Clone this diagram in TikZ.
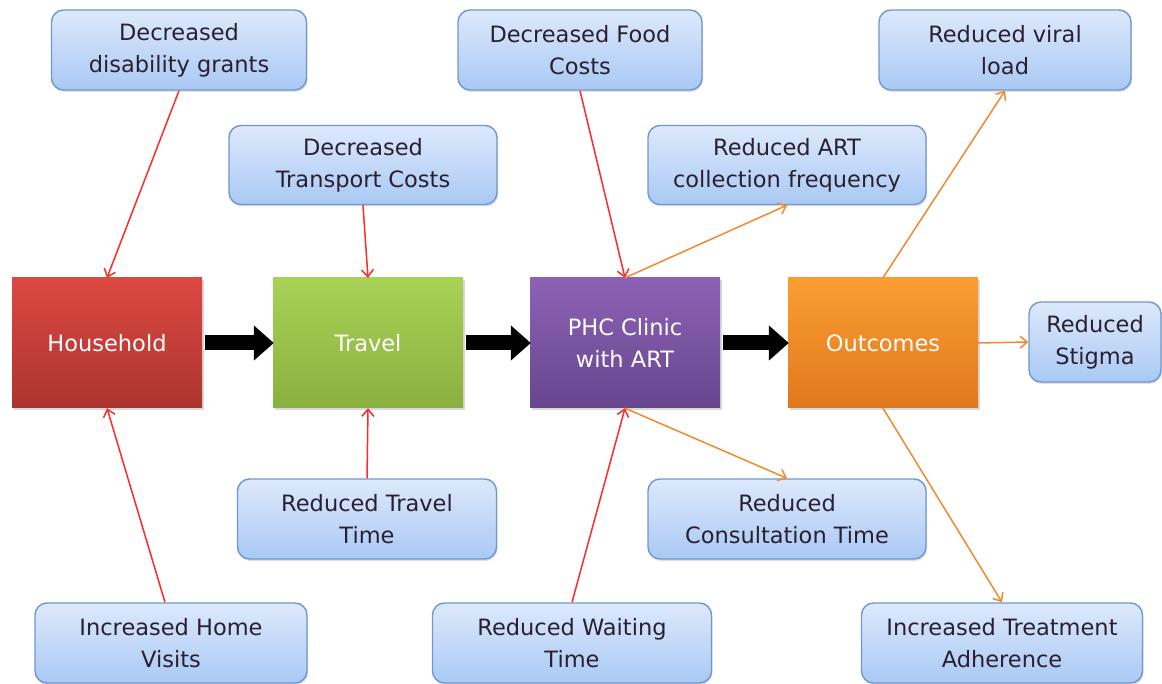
\documentclass[tikz,border=0pt]{standalone}
\usepackage{fontspec}
\setmainfont{DejaVu Sans}
\usetikzlibrary{arrows.meta,shadows}
\definecolor{redln}{HTML}{FF2A2A}
\definecolor{orln}{HTML}{F08A30}
\definecolor{bluebd}{HTML}{6F98CF}
\definecolor{bluetop}{HTML}{DDE9FC}
\definecolor{bluebot}{HTML}{A9C9F4}
\definecolor{txt}{HTML}{2A2030}
\tikzset{
  infobox/.style={draw=bluebd, line width=1.4pt, rounded corners=12pt, top color=bluetop, bottom color=bluebot,
    align=center, font=\fontsize{22.5}{32}\selectfont, text=txt, inner sep=0pt,
    drop shadow={shadow xshift=1pt, shadow yshift=-2pt, opacity=0.25}},
  mainbox/.style={minimum width=190pt, minimum height=130pt, inner sep=0pt, align=center,
    font=\fontsize{22.5}{32}\selectfont, text=white,
    drop shadow={shadow xshift=2pt, shadow yshift=-2pt, opacity=0.3}},
  redarrow/.style={draw=redln, line width=1.5pt, -{Straight Barb[length=7pt,width=12pt]}},
  orarrow/.style={draw=orln, line width=1.5pt, -{Straight Barb[length=7pt,width=12pt]}},
  blockarrow/.style={draw=black, line width=15pt, -{Triangle[length=20pt,width=34pt]}, shorten >=-1pt, shorten <=3pt}
}
\begin{document}
\begin{tikzpicture}[x=1pt,y=-1pt]
\useasboundingbox (0,0) rectangle (1162,684);
% main boxes
\node[mainbox, top color={rgb,255:red,220;green,72;blue,66}, bottom color={rgb,255:red,172;green,52;blue,48}] (hh) at (107,343) {Household};
\node[mainbox, top color={rgb,255:red,168;green,210;blue,86}, bottom color={rgb,255:red,138;green,176;blue,64}] (tr) at (368,343) {Travel};
\node[mainbox, top color={rgb,255:red,140;green,98;blue,180}, bottom color={rgb,255:red,104;green,70;blue,142}] (phc) at (625,343) {PHC Clinic\\with ART};
\node[mainbox, top color={rgb,255:red,250;green,158;blue,50}, bottom color={rgb,255:red,224;green,120;blue,30}] (out) at (883,343) {Outcomes};
% info boxes
\node[infobox, minimum width=255pt, minimum height=80pt] (dg) at (179,50) {Decreased\\disability grants};
\node[infobox, minimum width=268pt, minimum height=79pt] (tc) at (363,165) {Decreased\\Transport Costs};
\node[infobox, minimum width=244pt, minimum height=80pt] (fc) at (580,50) {Decreased Food\\Costs};
\node[infobox, minimum width=278pt, minimum height=79pt] (art) at (787,165) {Reduced ART\\collection frequency};
\node[infobox, minimum width=252pt, minimum height=80pt] (vl) at (1005,50) {Reduced viral\\load};
\node[infobox, minimum width=132pt, minimum height=80pt] (st) at (1095,342) {Reduced\\Stigma};
\node[infobox, minimum width=259pt, minimum height=80pt] (tt) at (367,519) {Reduced Travel\\Time};
\node[infobox, minimum width=278pt, minimum height=80pt] (ct) at (787,519) {Reduced\\Consultation Time};
\node[infobox, minimum width=272pt, minimum height=80pt] (hv) at (171,643) {Increased Home\\Visits};
\node[infobox, minimum width=279pt, minimum height=80pt] (wt) at (572,643) {Reduced Waiting\\Time};
\node[infobox, minimum width=281pt, minimum height=80pt] (ad) at (1002,643) {Increased Treatment\\Adherence};
% block arrows
\draw[blockarrow] (hh.east) -- (tr.west);
\draw[blockarrow] (tr.east) -- (phc.west);
\draw[blockarrow] (phc.east) -- (out.west);
% red arrows
\draw[redarrow] (dg.south) -- (hh.north);
\draw[redarrow] (tc.south) -- (tr.north);
\draw[redarrow] (fc.south) -- (phc.north);
\draw[redarrow] ([xshift=-6pt]hv.north) -- (hh.south);
\draw[redarrow] (tt.north) -- (tr.south);
\draw[redarrow] (wt.north) -- (phc.south);
% orange arrows
\draw[orarrow] (phc.north) -- (art.south);
\draw[orarrow] (phc.south) -- (ct.north);
\draw[orarrow] (out.north) -- (vl.south);
\draw[orarrow] (out.east) -- (st.west);
\draw[orarrow] (out.south) -- (ad.north);
\end{tikzpicture}
\end{document}
